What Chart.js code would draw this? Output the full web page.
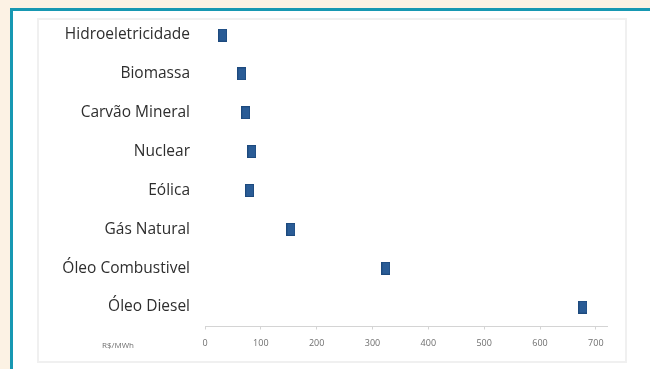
<!DOCTYPE html>
<html>
<head>
<meta charset="utf-8">
<script src="https://cdn.jsdelivr.net/npm/chart.js@4/dist/chart.umd.min.js"></script>
<style>
  html, body { margin: 0; padding: 0; }
  body { width: 650px; height: 369px; background: #fcf2e4; position: relative; overflow: hidden; }
  .frame { position: absolute; left: 10px; top: 8px; width: 660px; height: 380px;
           border: 3px solid #1798b2; background: #ffffff; }
  .box { position: absolute; left: 37px; top: 18px; width: 586px; height: 341px;
         border: 2px solid #f0f0f0; }
  canvas { position: absolute; left: 0; top: 0; }
</style>
</head>
<body>
<div class="frame"></div>
<div class="box"></div>
<canvas id="c" width="650" height="369"></canvas>
<script>
// Generation cost by source, R$/MWh
const fontes = ['Hidroeletricidade', 'Biomassa', 'Carvão Mineral', 'Nuclear',
                'Eólica', 'Gás Natural', 'Óleo Combustivel', 'Óleo Diesel'];
const custos = [32, 66, 73, 84, 80, 154, 324, 677];
const tickValues = [0, 100, 200, 300, 400, 500, 600, 700];
const unidade = 'R$/MWh';

// Tall rectangular marker
function makeMarker(w, h, fill, stroke) {
  const cv = document.createElement('canvas');
  cv.width = w; cv.height = h;
  const g = cv.getContext('2d');
  g.fillStyle = stroke; g.fillRect(0, 0, w, h);
  g.fillStyle = fill; g.fillRect(1, 1, w - 2, h - 2);
  return cv;
}
const marker = makeMarker(9, 13, '#2a5c96', '#1d4a7e');

const unitLabel = {
  id: 'unitLabel',
  afterDraw(chart) {
    const ctx = chart.ctx;
    ctx.save();
    ctx.font = '8px "Open Sans", sans-serif';
    ctx.fillStyle = '#6e6e6e';
    ctx.textAlign = 'left';
    ctx.textBaseline = 'middle';
    ctx.fillText(unidade, 102, 346);
    ctx.restore();
  }
};

new Chart(document.getElementById('c'), {
  type: 'line',
  data: {
    labels: fontes,
    datasets: [{
      data: custos,
      showLine: false,
      pointStyle: marker,
      pointRadius: 6,
      pointHoverRadius: 6
    }]
  },
  options: {
    indexAxis: 'y',
    responsive: false,
    animation: false,
    events: [],
    layout: { padding: { top: 15.6, right: 43, bottom: 0, left: 0 } },
    plugins: { legend: { display: false }, tooltip: { enabled: false } },
    scales: {
      y: {
        type: 'category',
        offset: true,
        grid: { display: false, drawTicks: false },
        border: { display: false },
        afterFit(s) { s.width = 205; s.paddingTop = 0; s.paddingBottom = 0; },
        ticks: {
          padding: 15,
          color: '#2e2e2e',
          font: { family: '"Open Sans", sans-serif', size: 15.5 }
        }
      },
      x: {
        type: 'linear',
        min: 0,
        max: 720,
        afterFit(s) { s.height = 42.5; s.paddingLeft = 0; s.paddingRight = 0; },
        afterBuildTicks(s) { s.ticks = tickValues.map(v => ({ value: v })); },
        grid: { drawOnChartArea: false, drawTicks: true, tickLength: 3, color: '#d4d4d4' },
        border: { display: true, color: '#d4d4d4', width: 1 },
        ticks: {
          padding: 9,
          maxRotation: 0,
          autoSkip: false,
          color: '#6e6e6e',
          font: { family: '"Open Sans", sans-serif', size: 9 }
        }
      }
    }
  },
  plugins: [unitLabel]
});
</script>
</body>
</html>
